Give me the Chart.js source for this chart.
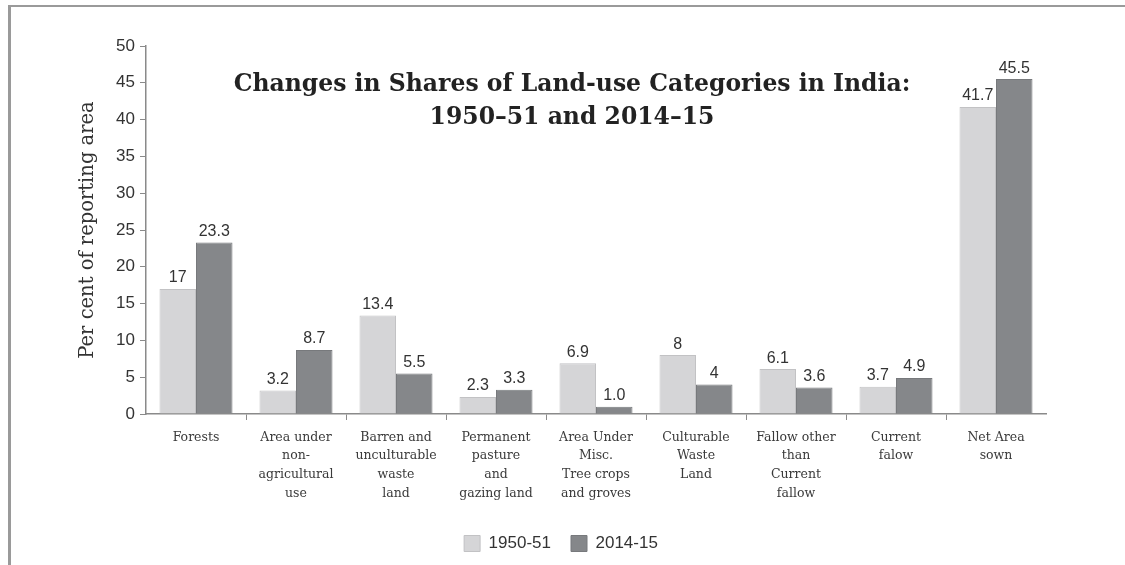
<!DOCTYPE html>
<html lang="en">
<head>
    <meta charset="UTF-8">
    <script src="https://cdn.jsdelivr.net/npm/chart.js"></script>
    <title>Land-use Categories in India</title>
    <style>
        body { margin: 0; background: #fff; }
        #wrap { position: relative; width: 1125px; height: 565px; }
        #frame { position: absolute; left: 8px; top: 5px; right: -5px; bottom: -5px;
                 border-top: 2px solid #9a9a9a; border-left: 3px solid #9a9a9a; pointer-events: none; }
    </style>
</head>
<body>
    <div id="wrap">
        <canvas id="landChart" width="1125" height="565"></canvas>
        <div id="frame"></div>
    </div>

    <script>
    const categories = [
        ['Forests'],
        ['Area under', 'non-', 'agricultural', 'use'],
        ['Barren and', 'unculturable', 'waste', 'land'],
        ['Permanent', 'pasture', 'and', 'gazing land'],
        ['Area Under', 'Misc.', 'Tree crops', 'and groves'],
        ['Culturable', 'Waste', 'Land'],
        ['Fallow other', 'than', 'Current', 'fallow'],
        ['Current', 'falow'],
        ['Net Area', 'sown']
    ];
    const share1950 = [17, 3.2, 13.4, 2.3, 6.9, 8, 6.1, 3.7, 41.7];
    const share2014 = [23.3, 8.7, 5.5, 3.3, 1.0, 4, 3.6, 4.9, 45.5];
    const text1950 = ['17', '3.2', '13.4', '2.3', '6.9', '8', '6.1', '3.7', '41.7'];
    const text2014 = ['23.3', '8.7', '5.5', '3.3', '1.0', '4', '3.6', '4.9', '45.5'];
    const yTicks = [0, 5, 10, 15, 20, 25, 30, 35, 40, 45, 50];
    const titleLines = ['Changes in Shares of Land-use Categories in India:', '1950\u201351 and 2014\u201315'];

    const sans = '"Liberation Sans", Arial, sans-serif';
    const serif = '"DejaVu Serif", "Liberation Serif", serif';

    // value labels above each bar
    const barLabels = {
        id: 'barLabels',
        afterDatasetsDraw(chart) {
            const ctx = chart.ctx;
            const texts = [text1950, text2014];
            ctx.save();
            ctx.font = '16px ' + sans;
            ctx.fillStyle = '#333';
            ctx.textAlign = 'center';
            ctx.textBaseline = 'bottom';
            chart.data.datasets.forEach((ds, i) => {
                chart.getDatasetMeta(i).data.forEach((bar, j) => {
                    ctx.fillText(texts[i][j], bar.x, bar.y - 3);
                });
            });
            ctx.restore();
        }
    };

    // title sits inside the plot area
    const innerTitle = {
        id: 'innerTitle',
        afterDraw(chart) {
            const ctx = chart.ctx;
            ctx.save();
            ctx.font = 'bold 23.5px ' + serif;
            ctx.fillStyle = '#222';
            ctx.textAlign = 'center';
            ctx.textBaseline = 'middle';
            ctx.fillText(titleLines[0], 572, 85);
            ctx.fillText(titleLines[1], 572, 118);
            ctx.restore();
        }
    };

    const ctx = document.getElementById('landChart');

    new Chart(ctx, {
        type: 'bar',
        data: {
            labels: categories,
            datasets: [{
                label: '1950-51',
                data: share1950,
                backgroundColor: '#d5d5d7',
                borderColor: '#c2c2c4',
                borderWidth: 1
            }, {
                label: '2014-15',
                data: share2014,
                backgroundColor: '#85878a',
                borderColor: '#77797c',
                borderWidth: 1
            }]
        },
        options: {
            responsive: false,
            animation: false,
            layout: {
                padding: { left: 76, right: 79, top: 46, bottom: 3 }
            },
            datasets: {
                bar: { categoryPercentage: 0.73, barPercentage: 1.0 }
            },
            plugins: {
                legend: {
                    position: 'bottom',
                    labels: {
                        boxWidth: 16,
                        boxHeight: 16,
                        padding: 20,
                        color: '#333',
                        font: { family: sans, size: 17 }
                    }
                },
                tooltip: { enabled: false }
            },
            scales: {
                x: {
                    offset: true,
                    grid: {
                        offset: true,
                        drawOnChartArea: false,
                        tickLength: 6,
                        color: (c) => (c.index === undefined || c.index === 0) ? 'rgba(0,0,0,0)' : '#8a8a8a'
                    },
                    border: { color: '#8a8a8a', width: 1.5 },
                    ticks: {
                        color: '#3a3a3a',
                        padding: 8,
                        maxRotation: 0,
                        autoSkip: false,
                        font: { family: serif, size: 12.5, lineHeight: 1.5 }
                    },
                    afterFit: (s) => { s.height = 101; }
                },
                y: {
                    min: 0,
                    max: 50,
                    afterBuildTicks: (s) => { s.ticks = yTicks.map(v => ({ value: v })); },
                    grid: {
                        drawOnChartArea: false,
                        tickLength: 6,
                        color: '#8a8a8a'
                    },
                    border: { color: '#8a8a8a', width: 1.5 },
                    ticks: {
                        color: '#333',
                        padding: 5,
                        font: { family: sans, size: 17 }
                    },
                    title: {
                        display: true,
                        text: 'Per cent of reporting area',
                        color: '#333',
                        padding: { top: 0, bottom: 0 },
                        font: { family: serif, size: 19.5 }
                    },
                    afterFit: (s) => { s.width = 70; }
                }
            }
        },
        plugins: [barLabels, innerTitle]
    });
    </script>
</body>
</html>
